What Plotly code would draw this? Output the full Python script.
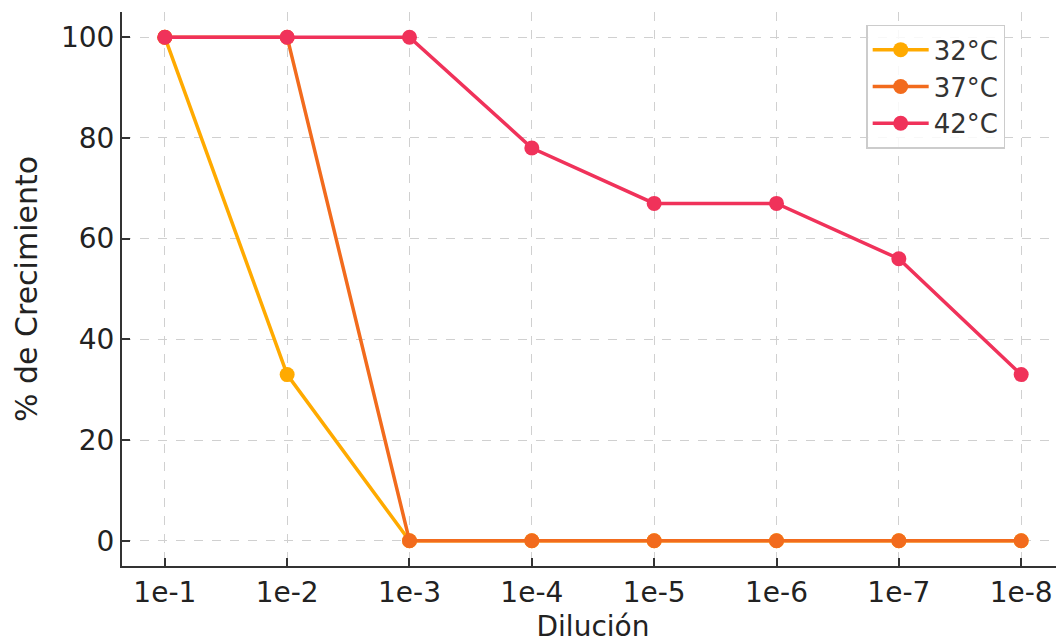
import plotly.graph_objects as go

diluciones = ["1e-1", "1e-2", "1e-3", "1e-4", "1e-5", "1e-6", "1e-7", "1e-8"]
t32 = [100, 33, 0, 0, 0, 0, 0, 0]
t37 = [100, 100, 0, 0, 0, 0, 0, 0]
t42 = [100, 100, 100, 78, 67, 67, 56, 33]
series = [("32°C", t32, "#FFAA00"), ("37°C", t37, "#F26B1D"), ("42°C", t42, "#F0325A")]

FONT = "DejaVu Sans"
fig = go.Figure()
for name, vals, col in series:
    fig.add_trace(go.Scatter(
        x=diluciones, y=vals, name=name, mode="lines+markers",
        line=dict(color=col, width=3.5),
        marker=dict(color=col, size=15),
    ))

# page body has an 8px default margin, so the figure is offset by 8px
fig.update_layout(
    width=1056, height=635,
    margin=dict(l=114, r=0, t=4, b=77),
    paper_bgcolor="white", plot_bgcolor="white",
    font=dict(family=FONT, size=28, color="#222"),
    showlegend=True,
    legend=dict(
        x=0.79, y=0.977, xanchor="left", yanchor="top",
        bgcolor="rgba(255,255,255,0.85)", bordercolor="#cccccc", borderwidth=1.5,
        font=dict(size=26, color="#333"),
        itemwidth=56, tracegroupgap=0,
    ),
    xaxis=dict(
        type="category", range=[-0.35, 7.35],
        title=dict(text="Dilución", font=dict(size=28, color="#222"), standoff=9),
        showgrid=True, gridcolor="#d0d0d0", griddash="dash", gridwidth=1,
        showline=True, linecolor="#333", linewidth=2,
        ticks="inside", ticklen=8, tickwidth=1.5, tickcolor="#333",
        tickfont=dict(size=28, color="#222"),
        zeroline=False, mirror=False,
    ),
    yaxis=dict(
        range=[-5, 105], tickvals=[0, 20, 40, 60, 80, 100],
        title=dict(text="% de Crecimiento", font=dict(size=30, color="#222"), standoff=14),
        showgrid=True, gridcolor="#d0d0d0", griddash="dash", gridwidth=1,
        showline=True, linecolor="#333", linewidth=2,
        ticks="inside", ticklen=8, tickwidth=1.5, tickcolor="#333",
        tickfont=dict(size=28, color="#222"),
        zeroline=False, mirror=False,
    ),
)

fig.write_html("out.html")
